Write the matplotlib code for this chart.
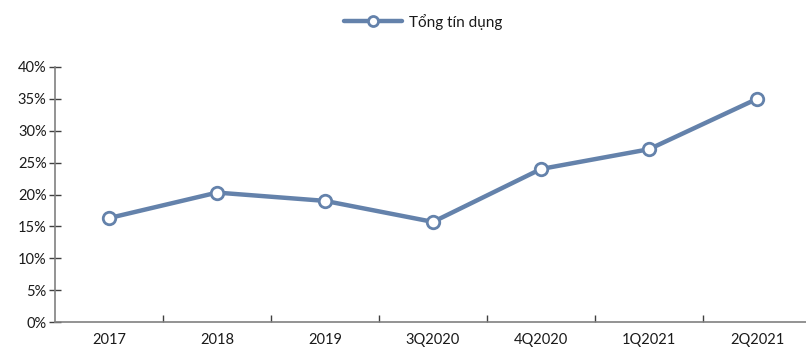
import matplotlib
matplotlib.use("Agg")
import matplotlib.pyplot as plt
from matplotlib.ticker import FuncFormatter, FixedLocator

categories = ["2017", "2018", "2019", "3Q2020", "4Q2020", "1Q2021", "2Q2021"]
values = [16.3, 20.3, 19.0, 15.7, 24.0, 27.1, 35.0]
y_ticks = [0, 5, 10, 15, 20, 25, 30, 35, 40]
series_name = "Tổng tín dụng"

plt.rcParams['font.family'] = ['Lato', 'DejaVu Sans']

W, H = 806, 348
fig = plt.figure(figsize=(W/100, H/100), dpi=100)
left, right = 55, 811
bottom, top = 322, 67
ax = fig.add_axes([left/W, 1 - bottom/H, (right-left)/W, (bottom-top)/H])

color = "#6482AB"
x = list(range(len(categories)))
ax.plot(x, values, color=color, lw=3.2, marker='o', ms=9, mfc='white',
        mec=color, mew=2, label=series_name, solid_capstyle='round', zorder=3)

ax.set_xlim(-0.5, len(categories) - 0.5)
ax.set_ylim(0, 40)
ax.yaxis.set_major_locator(FixedLocator(y_ticks))
ax.yaxis.set_major_formatter(FuncFormatter(lambda v, p: f"{int(v)}%"))
ax.set_xticks(x)
ax.set_xticklabels(categories)
ax.set_xticks([i + 0.5 for i in x[:-1]], minor=True)

for s in ['top', 'right']:
    ax.spines[s].set_visible(False)
for s in ['left', 'bottom']:
    ax.spines[s].set_color('#808080')
    ax.spines[s].set_linewidth(1.2)
ax.tick_params(axis='y', direction='inout', length=8, width=1, color='#404040',
               labelsize=10.5, labelcolor='#1a1a1a', pad=2)
ax.tick_params(axis='x', which='major', length=0, labelsize=10.5, labelcolor='#1a1a1a', pad=8)
ax.tick_params(axis='x', which='minor', direction='in', length=5, width=1, color='#404040')

leg = fig.legend(loc='upper center', bbox_to_anchor=(0.525, 1.0), frameon=False,
                 fontsize=11, handlelength=3.8, handletextpad=0.4, markerscale=0.8)
for t in leg.get_texts():
    t.set_color('#1a1a1a')

fig.savefig("out.png", dpi=100)
